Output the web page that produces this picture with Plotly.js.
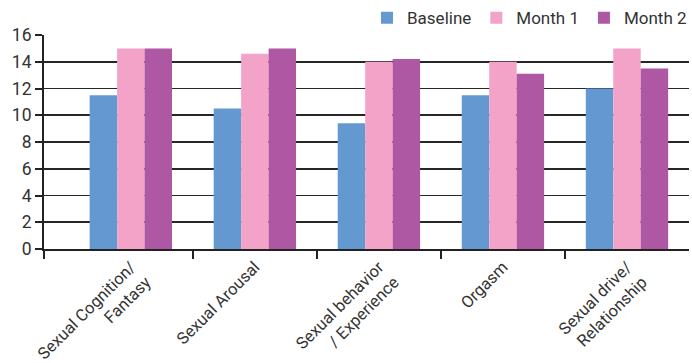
<!DOCTYPE html>
<html>
<head>
<meta charset="utf-8">
<script src="https://cdn.plot.ly/plotly-3.0.1.min.js"></script>
<style>html,body{margin:0;padding:0;background:#fff;}#chart{width:692px;height:363px;}</style>
</head>
<body>
<div id="chart"></div>
<script>
const categories = ["Sexual Cognition/<br>Fantasy", "Sexual Arousal", "Sexual behavior<br>/ Experience", "Orgasm", "Sexual drive/<br>Relationship"];
const seriesNames = ["Baseline", "Month 1", "Month 2"];
const baseline = [11.5, 10.5, 9.4, 11.5, 12.0];
const month1 = [15.0, 14.6, 14.0, 14.0, 15.0];
const month2 = [15.0, 15.0, 14.2, 13.1, 13.5];
const yTicks = [0, 2, 4, 6, 8, 10, 12, 14, 16];

const colors = ["#6498d0", "#f4a3c8", "#ae58a3"];
const idx = categories.map((_, i) => i);
const values = [baseline, month1, month2];
const traces = values.map((v, k) => ({
  type: "bar", x: idx, y: v, name: seriesNames[k],
  marker: {color: colors[k], line: {width: 0}}
}));
const leftPad = -0.7;
const boundaries = [leftPad].concat(categories.slice(1).map((_, i) => i + 0.5));

const layout = {
  width: 692, height: 363,
  margin: {l: 44, r: 0, t: 35, b: 114},
  paper_bgcolor: "#fff", plot_bgcolor: "#fff",
  font: {family: "Roboto, sans-serif", size: 15, color: "#333"},
  barmode: "group", bargap: 0.336, bargroupgap: 0,
  showlegend: true,
  legend: {orientation: "h", x: 1.005, xanchor: "right", y: 1.078, yanchor: "middle",
    font: {size: 17, color: "#333"}, itemwidth: 30, tracegroupgap: 0, traceorder: "normal"},
  xaxis: {
    type: "linear", range: [leftPad, categories.length - 0.5],
    tickmode: "array", tickvals: idx, ticktext: categories, tickangle: -45,
    ticks: "", showgrid: false, zeroline: false,
    showline: true, linecolor: "#222", linewidth: 2,
    tickfont: {size: 16.5, color: "#333"},
    minor: {tickmode: "array", tickvals: boundaries, ticks: "outside", ticklen: 8, tickwidth: 2, tickcolor: "#222", showgrid: false}
  },
  yaxis: {
    range: [0, 16], tickmode: "array", tickvals: yTicks,
    ticks: "outside", ticklen: 7, tickwidth: 2, tickcolor: "#222",
    showgrid: true, gridcolor: "#262626", gridwidth: 1.8,
    zeroline: false, showline: true, linecolor: "#222", linewidth: 2,
    tickfont: {size: 17.5, color: "#333"}
  }
};
Plotly.newPlot("chart", traces, layout, {displayModeBar: false, staticPlot: true});
</script>
</body>
</html>
